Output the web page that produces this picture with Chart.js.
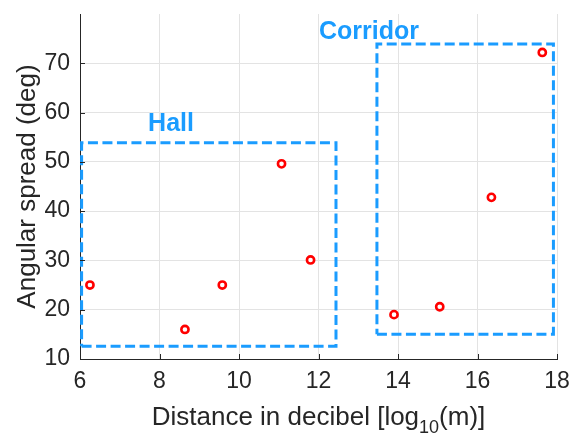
<!DOCTYPE html>
<html>
<head>
<meta charset="utf-8">
<script src="https://cdn.jsdelivr.net/npm/chart.js@4"></script>
<style>
  html, body { margin: 0; padding: 0; background: #ffffff; }
  #wrap { width: 574px; height: 434px; }
</style>
</head>
<body>
<div id="wrap"><canvas id="c"></canvas></div>
<script>
// Measured angular spread against distance (dB scale)
const distance = [6.25, 8.64, 9.58, 11.07, 11.8, 13.9, 15.05, 16.35, 17.63];
const spread   = [25.0, 16.0, 25.0, 49.6, 30.1, 19.0, 20.6, 42.8, 72.2];

// Region outlines (closed polylines)
const hallX     = [6.04, 12.44, 12.44, 6.04, 6.04];
const hallY     = [12.6, 12.6, 53.9, 53.9, 12.6];
const corridorX = [13.47, 17.91, 17.91, 13.47, 13.47];
const corridorY = [15.0, 15.0, 73.9, 73.9, 15.0];

// Region captions
const regionNames  = ['Hall', 'Corridor'];
const regionLabelX = [8.29, 13.27];
const regionLabelY = [57.6, 76.4];

const xTicks = [6, 8, 10, 12, 14, 16, 18];
const yTicks = [10, 20, 30, 40, 50, 60, 70];

const TEXT = '#262626';
const BLUE = 'rgb(26,156,255)';
const FONT = '"Liberation Sans", Arial, Helvetica, sans-serif';

const toXY = (xs, ys) => xs.map((x, i) => ({ x: x, y: ys[i] }));

const decorations = {
  id: 'decorations',
  afterDraw(chart) {
    const { ctx, chartArea, scales } = chart;
    const xs = scales.x, ys = scales.y;
    ctx.save();

    // inward tick marks
    ctx.strokeStyle = TEXT;
    ctx.lineWidth = 1;
    ctx.beginPath();
    xTicks.forEach(v => {
      const px = Math.round(xs.getPixelForValue(v)) + 0.5;
      ctx.moveTo(px, chartArea.bottom);
      ctx.lineTo(px, chartArea.bottom - 5);
    });
    yTicks.forEach(v => {
      const py = Math.round(ys.getPixelForValue(v)) + 0.5;
      ctx.moveTo(chartArea.left, py);
      ctx.lineTo(chartArea.left + 5, py);
    });
    ctx.stroke();

    // region captions
    ctx.fillStyle = BLUE;
    ctx.font = 'bold 25px ' + FONT;
    ctx.textAlign = 'center';
    ctx.textBaseline = 'middle';
    regionNames.forEach((name, i) => {
      ctx.fillText(name, xs.getPixelForValue(regionLabelX[i]), ys.getPixelForValue(regionLabelY[i]));
    });

    // x-axis title with subscript
    ctx.fillStyle = TEXT;
    ctx.textBaseline = 'alphabetic';
    ctx.textAlign = 'left';
    const mainFont = '26px ' + FONT, subFont = '18px ' + FONT;
    const p1 = 'Distance in decibel [log', p2 = '10', p3 = '(m)]';
    ctx.font = mainFont; const w1 = ctx.measureText(p1).width, w3 = ctx.measureText(p3).width;
    ctx.font = subFont;  const w2 = ctx.measureText(p2).width;
    const cx = (chartArea.left + chartArea.right) / 2;
    let x0 = cx - (w1 + w2 + w3) / 2;
    const base = 425;
    ctx.font = mainFont; ctx.fillText(p1, x0, base);
    ctx.font = subFont;  ctx.fillText(p2, x0 + w1, base + 8);
    ctx.font = mainFont; ctx.fillText(p3, x0 + w1 + w2, base);

    // y-axis title
    ctx.translate(35, (chartArea.top + chartArea.bottom) / 2);
    ctx.rotate(-Math.PI / 2);
    ctx.textAlign = 'center';
    ctx.font = mainFont;
    ctx.fillText('Angular spread (deg)', 0, 0);

    ctx.restore();
  }
};

new Chart(document.getElementById('c'), {
  type: 'scatter',
  data: {
    datasets: [
      {
        label: 'Measurements',
        data: toXY(distance, spread),
        pointStyle: 'circle',
        pointRadius: 3.6,
        pointBorderWidth: 2.6,
        pointBorderColor: '#ff0000',
        pointBackgroundColor: '#ffffff',
        showLine: false,
        order: 0
      },
      {
        label: 'Hall',
        data: toXY(hallX, hallY),
        showLine: true,
        borderColor: BLUE,
        borderWidth: 3,
        borderDash: [10, 4.5],
        pointRadius: 0,
        fill: false,
        tension: 0,
        order: 1
      },
      {
        label: 'Corridor',
        data: toXY(corridorX, corridorY),
        showLine: true,
        borderColor: BLUE,
        borderWidth: 3,
        borderDash: [10, 4.5],
        pointRadius: 0,
        fill: false,
        tension: 0,
        order: 1
      }
    ]
  },
  options: {
    responsive: true,
    maintainAspectRatio: false,
    animation: false,
    devicePixelRatio: 1,
    layout: { padding: { top: 14, right: 17, left: 0, bottom: 0 } },
    plugins: { legend: { display: false }, tooltip: { enabled: false } },
    scales: {
      x: {
        type: 'linear',
        min: 6, max: 18,
        afterBuildTicks: s => { s.ticks = xTicks.map(v => ({ value: v })); },
        afterFit: s => { s.height = 75; s.paddingLeft = 0; s.paddingRight = 0; s.paddingTop = 0; s.paddingBottom = 0; },
        ticks: { color: TEXT, font: { family: FONT, size: 23 }, padding: 9, maxRotation: 0 },
        grid: { color: '#e3e3e3', lineWidth: 1, drawTicks: false },
        border: { display: true, color: TEXT, width: 1 }
      },
      y: {
        type: 'linear',
        min: 10, max: 80,
        afterBuildTicks: s => { s.ticks = yTicks.map(v => ({ value: v })); },
        afterFit: s => { s.width = 80; s.paddingLeft = 0; s.paddingRight = 0; s.paddingTop = 0; s.paddingBottom = 0; },
        ticks: { color: TEXT, font: { family: FONT, size: 23 }, padding: 10 },
        grid: { color: '#e3e3e3', lineWidth: 1, drawTicks: false },
        border: { display: true, color: TEXT, width: 1 }
      }
    }
  },
  plugins: [decorations]
});
</script>
</body>
</html>
